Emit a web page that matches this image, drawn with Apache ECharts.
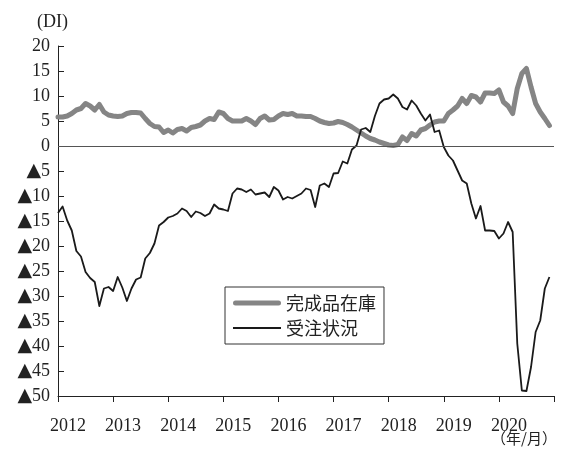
<!DOCTYPE html>
<html lang="ja">
<head>
    <meta charset="utf-8">
    <title>完成品在庫と受注状況</title>
    <script src="https://cdn.jsdelivr.net/npm/echarts@6/dist/echarts.min.js"></script>
    <style>
        html, body {
            margin: 0;
            padding: 0;
            background: #fff;
        }

        #container {
            width: 563px;
            height: 453px;
        }
    </style>
</head>
<body>
<div id="container"></div>
<script>
    // 月次 2012/1 ～ 2020/12 (軸の右端に 2021/1 を置く)
    var startYear = 2012;
    var endYear = 2021;
    var yearLabels = ['2012', '2013', '2014', '2015', '2016', '2017', '2018', '2019', '2020'];

    var inventory = [
        5.8, 5.8, 6.0, 6.5, 7.2, 7.5, 8.5, 8.0, 7.2, 8.3, 6.8, 6.2,
        6.0, 5.9, 6.0, 6.5, 6.7, 6.7, 6.6, 5.5, 4.5, 3.9, 3.8, 2.7,
        3.2, 2.6, 3.3, 3.5, 3.0, 3.7, 3.9, 4.2, 5.0, 5.5, 5.3, 6.8,
        6.5, 5.5, 5.0, 5.0, 5.0, 5.5, 5.0, 4.3, 5.5, 6.0, 5.2, 5.3,
        6.0, 6.5, 6.3, 6.5, 6.0, 6.0, 5.9, 5.9, 5.5, 5.0, 4.7, 4.5,
        4.6, 4.9, 4.7, 4.3, 3.8, 3.2, 2.6, 2.0, 1.5, 1.2, 0.8, 0.5,
        0.2, 0.1, 0.3, 1.8, 1.1, 2.5, 2.0, 3.2, 3.5, 4.2, 4.8, 5.0,
        5.0, 6.5, 7.2, 8.0, 9.5, 8.5, 10.1, 9.8, 8.8, 10.6, 10.6, 10.5,
        11.2, 8.8, 8.0, 6.5, 11.5, 14.5, 15.5, 11.8, 8.5, 6.8, 5.5, 4.1
    ];

    var orders = [
        -13.4, -12.1, -14.9, -16.9, -21.0, -22.1, -25.2, -26.4, -27.2, -32.0, -28.5, -28.2,
        -29.0, -26.2, -28.3, -31.0, -28.5, -26.7, -26.3, -22.5, -21.4, -19.5, -15.9, -15.2,
        -14.3, -14.0, -13.5, -12.5, -13.0, -14.2, -13.1, -13.4, -14.0, -13.5, -11.7, -12.5,
        -12.7, -13.0, -9.5, -8.5, -8.7, -9.2, -8.7, -9.7, -9.5, -9.3, -10.2, -8.2,
        -8.9, -10.7, -10.2, -10.5, -10.0, -9.5, -8.5, -8.8, -12.2, -7.9, -7.5, -8.2,
        -5.5, -5.4, -3.1, -3.5, -0.7, 0.1, 3.3, 3.6, 2.8, 6.0, 8.5, 9.3,
        9.5, 10.3, 9.5, 7.8, 7.3, 9.1, 8.1, 6.5, 5.1, 6.3, 2.8, 3.1,
        -0.2, -1.9, -2.9, -4.9, -6.9, -7.5, -11.5, -14.5, -12.0, -16.9, -16.9, -17.0,
        -18.5, -17.5, -15.2, -17.2, -39.5, -48.9, -49.0, -44.2, -37.2, -34.9, -28.5, -26.2
    ];

    var months = [];
    for (var y = startYear; y < endYear; y++) {
        for (var m = 1; m <= 12; m++) {
            months.push(y + '/' + m);
        }
    }
    months.push(endYear + '/1');

    var serif = '"Liberation Serif", "DejaVu Serif", serif';
    var jp = '"Noto Sans CJK JP", sans-serif';

    // 凡例の線 (高さ18の枠の中央に太さだけの帯を置く)
    var thickIcon = 'path://M0,0M2.5,6.5h43a2.5,2.5 0 0 1 0,5h-43a2.5,2.5 0 0 1 0,-5zM48,18';
    var thinIcon = 'path://M0,0M0,8.1h48v1.8h-48zM48,18';

    var myChart = echarts.init(document.getElementById('container'));
    var option = {
        animation: false,
        backgroundColor: '#fff',
        grid: {
            left: 58,
            right: 9,
            top: 46,
            bottom: 57
        },
        legend: {
            orient: 'vertical',
            left: 225,
            top: 287,
            padding: [7, 8, 7, 8],
            itemWidth: 48,
            itemHeight: 18,
            itemGap: 7,
            borderColor: '#333',
            borderWidth: 1,
            textStyle: {
                fontFamily: jp,
                fontSize: 18,
                color: '#222'
            },
            data: [
                {name: '完成品在庫', icon: thickIcon},
                {name: '受注状況', icon: thinIcon}
            ]
        },
        graphic: [
            {
                type: 'text',
                left: 37,
                top: 13,
                style: {text: '(DI)', font: '18px ' + serif, fill: '#222'}
            },
            {
                type: 'text',
                right: 6,
                top: 431,
                style: {text: '（年/月）', font: '15px ' + jp, fill: '#222'}
            }
        ],
        xAxis: {
            type: 'category',
            data: months,
            boundaryGap: false,
            axisLine: {onZero: false, lineStyle: {color: '#222', width: 1}},
            axisTick: {
                length: 6,
                lineStyle: {color: '#222'},
                interval: function (i) {
                    return i % 12 === 0;
                }
            },
            axisLabel: {
                interval: function (i) {
                    return i % 12 === 0 && i / 12 < yearLabels.length;
                },
                formatter: function (val, i) {
                    return yearLabels[i / 12] || '';
                },
                margin: 21,
                padding: [0, 0, 0, 20],
                fontFamily: serif,
                fontSize: 18,
                color: '#222'
            },
            splitLine: {show: false}
        },
        yAxis: {
            type: 'value',
            min: -50,
            max: 20,
            interval: 5,
            axisLine: {show: true, lineStyle: {color: '#222', width: 1}},
            axisTick: {show: true, inside: true, length: 6, lineStyle: {color: '#222'}},
            axisLabel: {
                margin: 8,
                fontFamily: serif,
                fontSize: 18,
                color: '#222',
                formatter: function (v) {
                    return v < 0 ? '{t|▲}' + (-v) : String(v);
                },
                rich: {
                    t: {fontFamily: '"DejaVu Sans", sans-serif', fontSize: 19, color: '#222'}
                }
            },
            splitLine: {show: false}
        },
        series: [
            {
                name: '完成品在庫',
                type: 'line',
                data: inventory,
                symbol: 'none',
                z: 2,
                lineStyle: {color: '#858585', width: 5, cap: 'round', join: 'round'},
                itemStyle: {color: '#858585'},
                markLine: {
                    silent: true,
                    symbol: 'none',
                    label: {show: false},
                    lineStyle: {color: '#555', width: 1, type: 'solid'},
                    data: [{yAxis: 0}]
                }
            },
            {
                name: '受注状況',
                type: 'line',
                data: orders,
                symbol: 'none',
                z: 3,
                lineStyle: {color: '#1a1a1a', width: 1.8, join: 'round'},
                itemStyle: {color: '#1a1a1a'}
            }
        ]
    };
    myChart.setOption(option);
</script>
</body>
</html>
